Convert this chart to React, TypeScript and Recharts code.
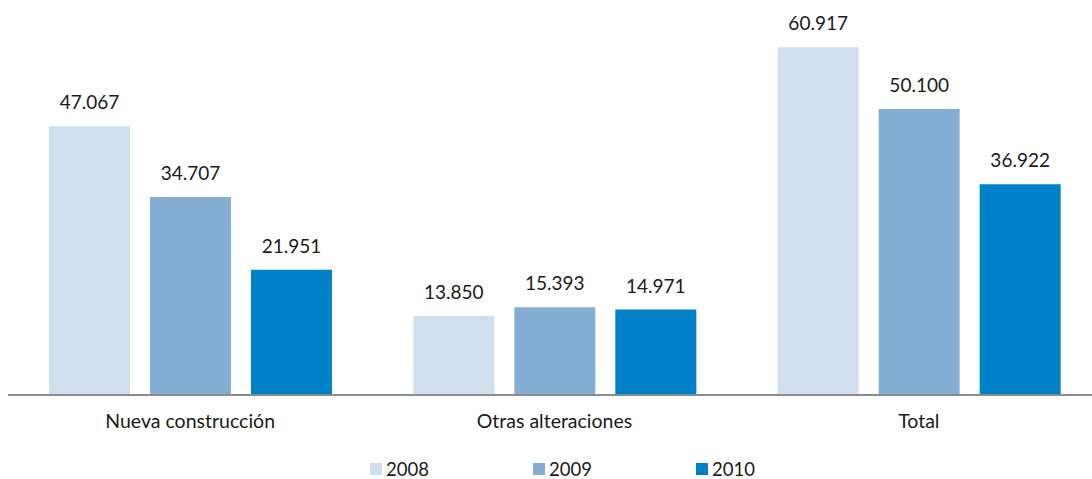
import { BarChart, Bar, XAxis, YAxis, LabelList } from 'recharts'

const CATEGORIES = ['Nueva construcción', 'Otras alteraciones', 'Total']
const Y2008 = [47067, 13850, 60917]
const Y2009 = [34707, 15393, 50100]
const Y2010 = [21951, 14971, 36922]

const SERIES = [
  { key: 'y2008', name: '2008', color: '#cfdfee' },
  { key: 'y2009', name: '2009', color: '#85aed4' },
  { key: 'y2010', name: '2010', color: '#0080c6' },
]

const data = CATEGORIES.map((cat, i) => ({
  cat,
  y2008: Y2008[i],
  y2009: Y2009[i],
  y2010: Y2010[i],
}))

const FONT = 'Lato, "Open Sans", sans-serif'

const fmt = (v: any) => Number(v).toLocaleString('de-DE')

export default function App() {
  return (
    <div style={{ position: 'fixed', left: 0, top: 0, width: 1092, height: 479, overflow: 'hidden', background: '#fff', fontFamily: FONT }}>
      <BarChart
        width={1102}
        height={479}
        data={data}
        margin={{ top: 24, right: 1, bottom: 44, left: 8 }}
        barSize={81}
        barGap={20}
      >
        <XAxis
          dataKey="cat"
          height={40}
          tickLine={false}
          axisLine={{ stroke: '#8c8c8c', strokeWidth: 2 }}
          tickMargin={13}
          tick={{ fontSize: 19.5, fill: '#1a1a1a', fontFamily: FONT }}
        />
        <YAxis hide domain={[0, 65000]} />
        {SERIES.map((s) => (
          <Bar key={s.key} dataKey={s.key} name={s.name} fill={s.color} isAnimationActive={false}>
            <LabelList
              dataKey={s.key}
              position="top"
              offset={17}
              formatter={fmt}
              style={{ fontSize: 19, fill: '#1a1a1a', fontFamily: FONT }}
            />
          </Bar>
        ))}
      </BarChart>
      <div style={{ position: 'absolute', left: 370, top: 461, display: 'flex' }}>
        {SERIES.map((s) => (
          <div key={s.key} style={{ width: 163, height: 16, display: 'flex', alignItems: 'center' }}>
            <span style={{ width: 12, height: 12, background: s.color, display: 'block', marginRight: 4 }} />
            <span style={{ display: 'block', height: 16, fontSize: 18.5, color: '#1a1a1a', lineHeight: '16px' }}>{s.name}</span>
          </div>
        ))}
      </div>
    </div>
  )
}
